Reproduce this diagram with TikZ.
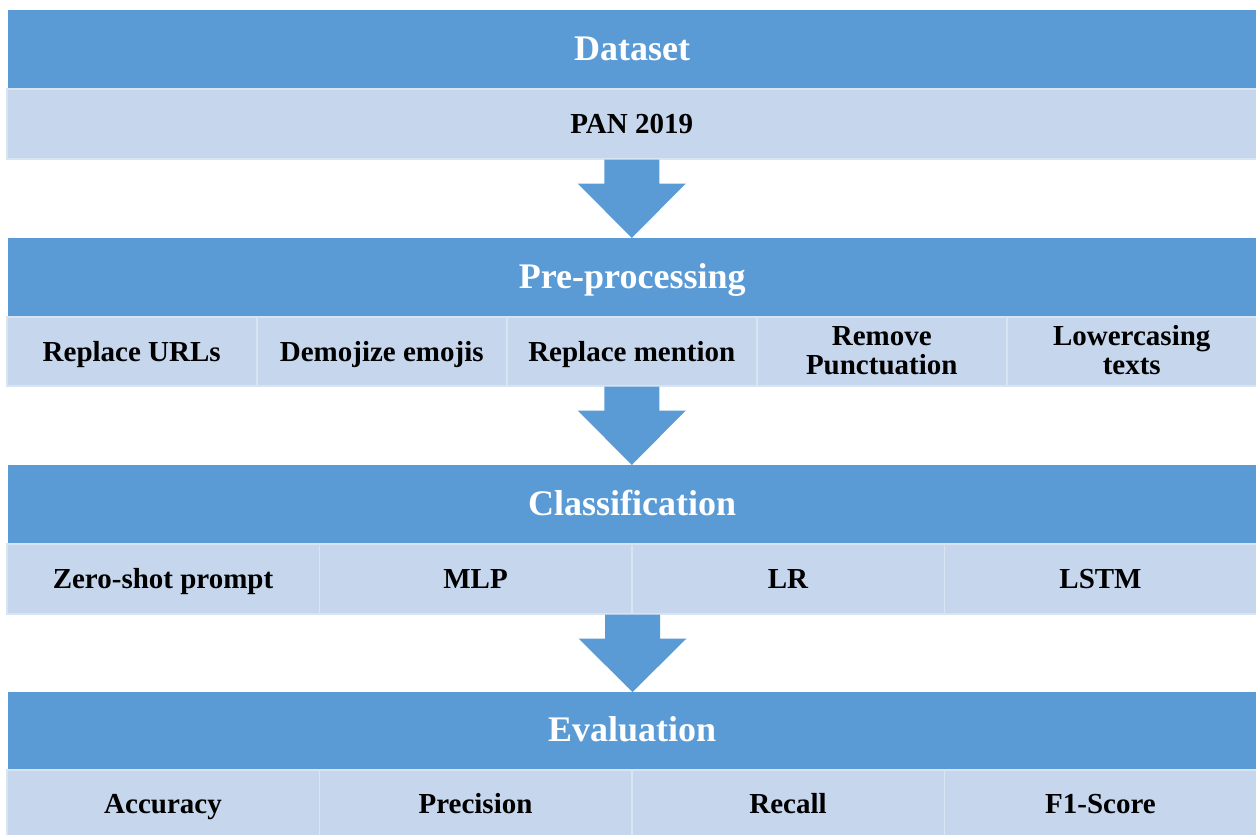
\documentclass[tikz,border=0pt]{standalone}
\usepackage{fontspec}
\setmainfont{Liberation Serif}
\usetikzlibrary{calc}

\definecolor{stageblue}{HTML}{5B9BD5}
\definecolor{itemblue}{HTML}{C6D6EC}
\definecolor{itemline}{HTML}{D9E4F2}

% struts for the two-line cells
\newcommand\topstrut{\rule{0pt}{24.5pt}}
\newcommand\botstrut{\rule[-6.5pt]{0pt}{6.5pt}}

\tikzset{
  stage/.style={fill=stageblue, text=white, inner sep=0pt, anchor=north west,
    minimum width=1248pt, minimum height=78pt, text height=28pt, text depth=6pt,
    font=\bfseries\fontsize{36}{38}\selectfont},
  item/.style={fill=itemblue, draw=itemline, line width=1.5pt, inner sep=0pt,
    anchor=north west, align=center,
    font=\bfseries\fontsize{29}{29}\selectfont},
  oneline/.style={text height=22pt, text depth=2pt},
  twoline/.style={},
  blockarrow/.style={fill=stageblue}
}

\begin{document}
\begin{tikzpicture}[x=1pt, y=-1pt]
  \useasboundingbox (0,0) rectangle (1256,835);

  % dataset
  \node[stage] (data) at (8,10) {Dataset};
  \node[item, oneline, minimum width=1250pt, minimum height=70pt] (pan) at (6,88) {PAN 2019};

  % pre-processing
  \node[stage] (pre) at (8,238) {Pre-processing};
  \foreach \txt/\sty [count=\i from 0] in {Replace URLs/oneline, Demojize emojis/oneline, Replace mention/oneline,
      \topstrut Remove\\Punctuation\botstrut/twoline, \topstrut Lowercasing\\texts\botstrut/twoline}
    \node[item, \sty, minimum width=250pt, minimum height=69pt] (pre\i) at (6+250*\i,316) {\txt};

  % classification
  \node[stage] (cls) at (8,465) {Classification};
  \foreach \txt [count=\i from 0] in {Zero-shot prompt, MLP, LR, LSTM}
    \node[item, oneline, minimum width=312.5pt, minimum height=70pt] (cls\i) at (6+312.5*\i,543) {\txt};

  % evaluation
  \node[stage, minimum height=77pt] (eval) at (8,692) {Evaluation};
  \foreach \txt [count=\i from 0] in {Accuracy, Precision, Recall, F1-Score}
    \node[item, oneline, minimum width=312.5pt, minimum height=68pt] (eval\i) at (6+312.5*\i,769) {\txt};

  % arrows between stages
  \foreach \a/\b in {pan.south/pre.north, pre2.south/cls.north, cls1.south east/eval.north}
    \fill[blockarrow] ($(\a)+(-27.5,0)$) -- ++(0,24) -- ++(-26.5,0) -- (\a |- \b)
      -- ($(\a)+(54,24)$) -- ++(-26.5,0) -- ++(0,-24) -- cycle;
\end{tikzpicture}
\end{document}
